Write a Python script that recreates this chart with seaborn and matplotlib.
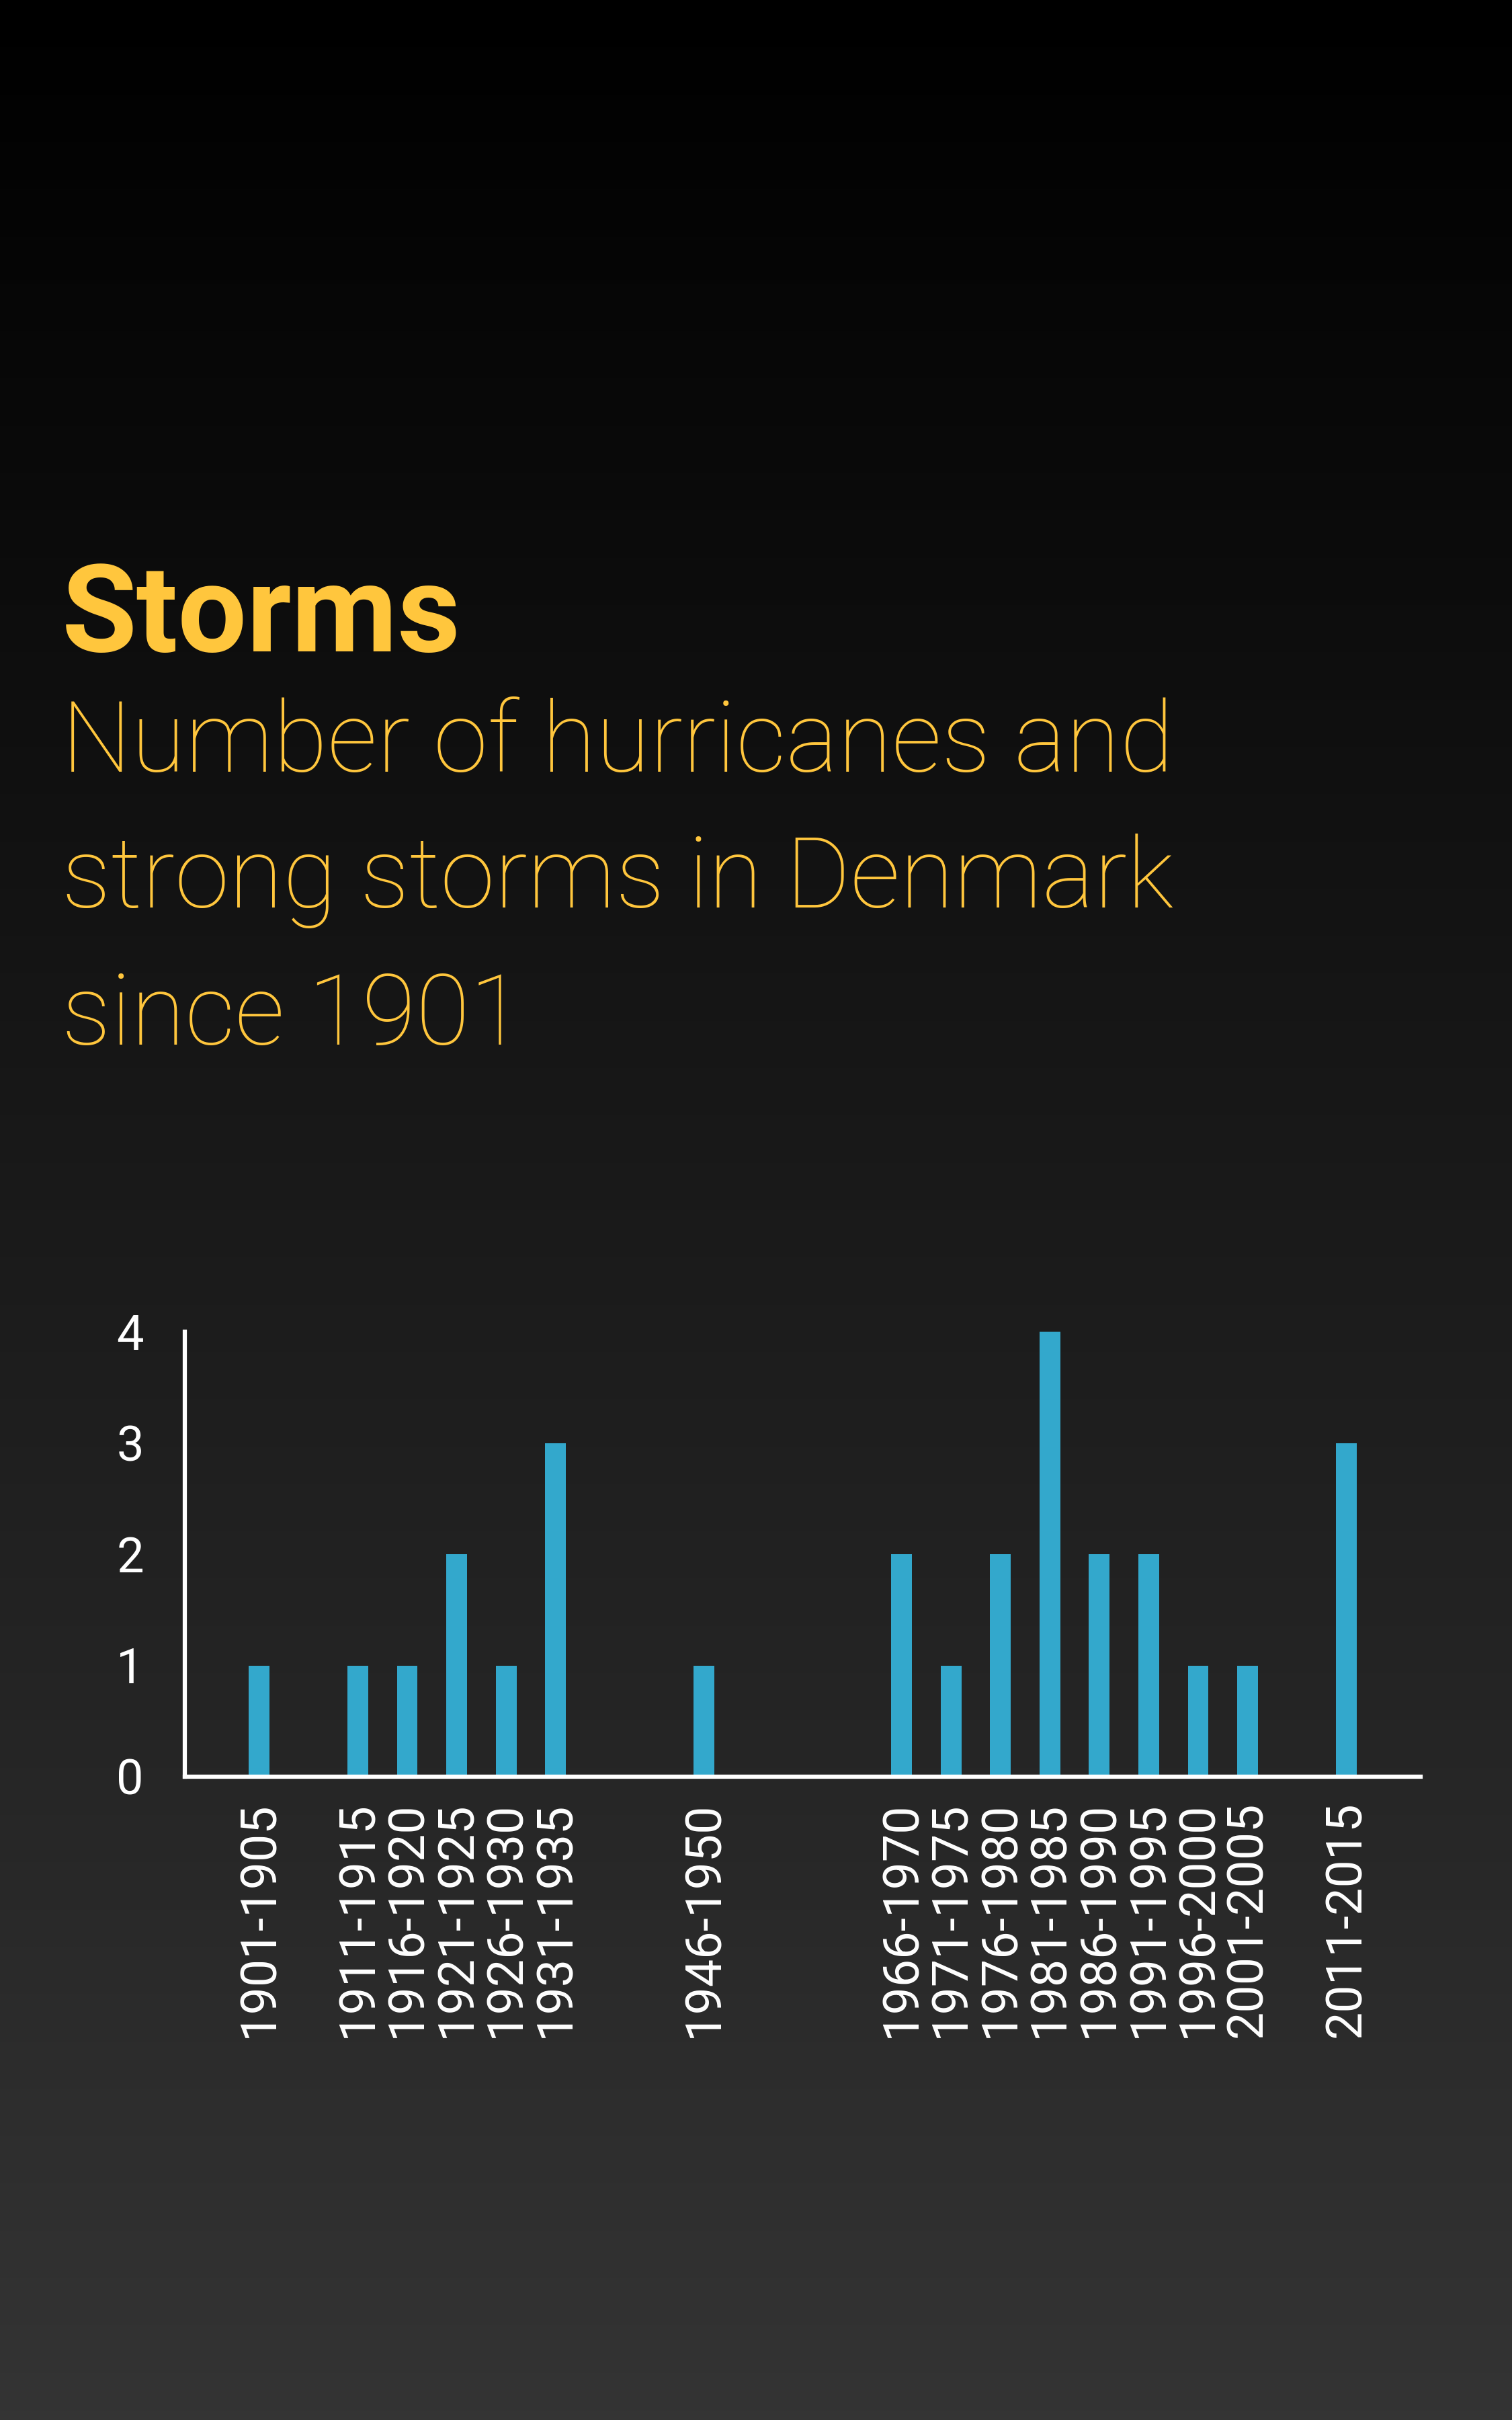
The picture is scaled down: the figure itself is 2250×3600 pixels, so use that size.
import numpy as np
import matplotlib
matplotlib.use("Agg")
import matplotlib.pyplot as plt
import matplotlib.transforms as mtransforms
import seaborn as sns

# ---- data ----
periods = ["1901-1905", "1906-1910", "1911-1915", "1916-1920", "1921-1925",
           "1926-1930", "1931-1935", "1936-1940", "1941-1945", "1946-1950",
           "1951-1955", "1956-1960", "1961-1965", "1966-1970", "1971-1975",
           "1976-1980", "1981-1985", "1986-1990", "1991-1995", "1996-2000",
           "2001-2005", "2006-2010", "2011-2015"]
storms = [1, 0, 1, 1, 2, 1, 3, 0, 0, 1, 0, 0, 0, 2, 1, 2, 4, 2, 2, 1, 1, 0, 3]
y_ticks = [0, 1, 2, 3, 4]
title = "Storms"
subtitle_lines = ["Number of hurricanes and", "strong storms in Denmark", "since 1901"]

YELLOW = "#FFC63D"
BLUE = "#33A8CC"
WHITE = "#FFFFFF"

sns.set_theme(style="white")
plt.rcParams["font.family"] = ["Roboto", "DejaVu Sans"]

W, H = 2250, 3600
fig = plt.figure(figsize=(W / 100, H / 100), dpi=100)

# background gradient
bg = fig.add_axes([0, 0, 1, 1], zorder=-10)
grad = np.linspace(0, 1, 512).reshape(-1, 1)
bg.imshow(grad, aspect="auto", cmap=matplotlib.colors.LinearSegmentedColormap.from_list(
    "bg", ["#000000", "#343434"]), extent=[0, 1, 0, 1], origin="upper")
bg.set_axis_off()

ax_left, ax_right, ax_top, ax_bottom = 275, 2114, 1981, 2643
ax = fig.add_axes([ax_left / W, 1 - ax_bottom / H, (ax_right - ax_left) / W,
                   (ax_bottom - ax_top) / H])
ax.patch.set_alpha(0)
sns.barplot(x=periods, y=storms, order=periods, color=BLUE, width=0.42,
            saturation=1, linewidth=0, ax=ax)
ax.set_xlim(-1.5, len(periods) - 0.5 + 1)
ax.set_ylim(0, 4)
ax.set_yticks(y_ticks)
ax.set_yticklabels([str(v) for v in y_ticks], color=WHITE, fontsize=52,
                   fontweight="normal")
ax.tick_params(axis="y", length=0, pad=44)
ax.set_xticks([])
ax.set_xlabel("")
ax.set_ylabel("")
for s in ["top", "right"]:
    ax.spines[s].set_visible(False)
for s in ["left", "bottom"]:
    ax.spines[s].set_visible(True)
    ax.spines[s].set_color(WHITE)
    ax.spines[s].set_linewidth(4.5)

# x labels (only for periods with storms), bottom-aligned
trans = mtransforms.blended_transform_factory(ax.transData, fig.transFigure)
for i, (p, v) in enumerate(zip(periods, storms)):
    if v > 0:
        ax.text(i, 1 - 3031 / H, p, transform=trans, rotation=90,
                ha="center", va="bottom", color=WHITE, fontsize=53,
                fontweight="normal", clip_on=False)

# titles
fig.text(92 / W, 1 - 969 / H, title, color=YELLOW, fontsize=131,
         fontweight="bold", va="baseline", ha="left")
baselines = [1148, 1350, 1554]
for line, b in zip(subtitle_lines, baselines):
    fig.text(92 / W, 1 - b / H, line, color=YELLOW, fontsize=105.5,
             fontweight="light", va="baseline", ha="left")

fig.savefig("out.png", dpi=100)
